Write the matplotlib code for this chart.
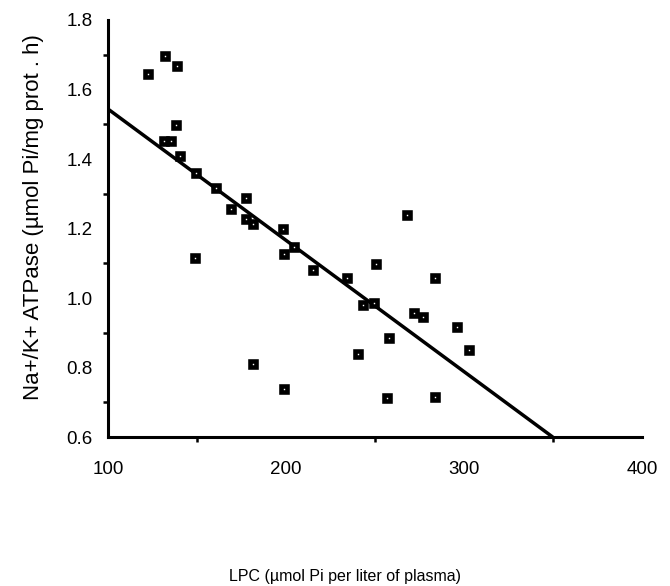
import numpy as np
from matplotlib import pyplot as plt

# LPC (umol Pi per liter of plasma) vs Na+/K+ ATPase activity
lpc = [122.5, 132.0, 138.8, 138.2, 131.5, 135.4, 140.4, 149.4, 160.7, 169.1,
       177.5, 177.5, 181.5, 148.9, 198.3, 198.9, 204.5, 215.2, 234.3, 250.6,
       243.3, 249.4, 268.0, 283.7, 271.9, 277.0, 257.9, 240.5, 296.1, 302.8,
       181.5, 198.9, 256.7, 283.7]
atpase = [1.645, 1.697, 1.668, 1.498, 1.452, 1.452, 1.409, 1.360, 1.317, 1.256,
          1.288, 1.227, 1.213, 1.115, 1.199, 1.127, 1.147, 1.081, 1.058, 1.098,
          0.980, 0.986, 1.239, 1.058, 0.957, 0.945, 0.885, 0.839, 0.917, 0.850,
          0.810, 0.738, 0.712, 0.715]

# regression line end points
fit_x = [100, 350]
fit_y = [1.544, 0.6]

x_labels = [100, 200, 300, 400]
x_minor = [150, 250, 350]
y_labels = [0.6, 0.8, 1.0, 1.2, 1.4, 1.6, 1.8]
y_minor = [0.7, 0.9, 1.1, 1.3, 1.5, 1.7]


def main():
    plt.rcParams['font.family'] = ['Liberation Sans', 'DejaVu Sans']

    fig = plt.figure(figsize=(6.7, 5.86), dpi=100)
    ax = fig.add_axes([0.161, 0.254, 0.797, 0.712])

    ax.plot(fit_x, fit_y, color='black', linewidth=2.5, solid_capstyle='butt', zorder=2)
    ax.plot(lpc, atpase, linestyle='none', marker='s', markersize=5.0,
            markerfacecolor='white', markeredgecolor='black', markeredgewidth=3.3, zorder=3)

    ax.set_xlim(100, 400)
    ax.set_ylim(0.6, 1.8)

    ax.spines['top'].set_visible(False)
    ax.spines['right'].set_visible(False)
    ax.spines['left'].set_linewidth(2.2)
    ax.spines['bottom'].set_linewidth(2.2)

    ax.set_xticks(x_labels)
    ax.set_xticklabels([str(v) for v in x_labels])
    ax.set_xticks(x_minor, minor=True)
    ax.set_yticks(y_labels)
    ax.set_yticklabels([f'{v:.1f}' for v in y_labels])
    ax.set_yticks(y_minor, minor=True)

    ax.tick_params(which='major', length=0, labelsize=13.5)
    ax.tick_params(axis='x', which='major', pad=17)
    ax.tick_params(axis='y', which='major', pad=11)
    ax.tick_params(which='minor', length=3.5, width=1.8, direction='out')

    ax.set_xlabel('LPC (\u00b5mol Pi per liter of plasma)', fontsize=11.5)
    ax.xaxis.set_label_coords(0.444, -0.315)
    ax.set_ylabel('Na+/K+ ATPase (\u00b5mol Pi/mg prot . h)', fontsize=16)
    ax.yaxis.set_label_coords(-0.119, 0.528)

    fig.savefig('out.png', dpi=100)


if __name__ == '__main__':
    main()
